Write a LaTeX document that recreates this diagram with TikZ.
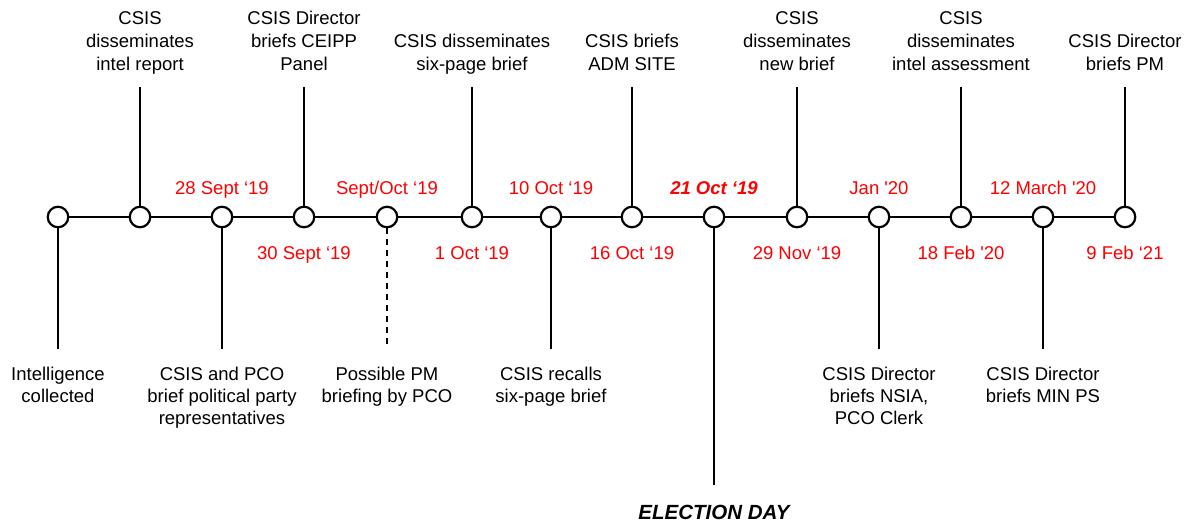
\documentclass[tikz,border=0pt]{standalone}
\usepackage{fontspec}
\setmainfont{Liberation Sans}
\begin{document}
\begin{tikzpicture}[x=1pt,y=-1pt,
  ev/.style={circle,draw,fill=white,line width=2.2pt,minimum size=20.5pt,inner sep=0pt},
  stem/.style={line width=2.2pt},
  dstem/.style={line width=2.2pt,dash pattern=on 6pt off 5pt},
  toplab/.style={anchor=south,align=center,inner sep=0pt,text depth=0pt,font=\fontsize{18.5}{23}\selectfont},
  botlab/.style={anchor=north,align=center,inner sep=0pt,font=\fontsize{18.5}{22}\selectfont},
  datelab/.style={anchor=base,inner sep=0pt,text=red,font=\fontsize{18.5}{22}\selectfont}]

\useasboundingbox (0,0) rectangle (1186,523);

% event circles
\node[ev] (c1)  at (58,217) {};
\node[ev] (c2)  at (140,217) {};
\node[ev] (c3)  at (222,217) {};
\node[ev] (c4)  at (304,217) {};
\node[ev] (c5)  at (387,217) {};
\node[ev] (c6)  at (472,217) {};
\node[ev] (c7)  at (551,217) {};
\node[ev] (c8)  at (632,217) {};
\node[ev] (c9)  at (714,217) {};
\node[ev] (c10) at (797,217) {};
\node[ev] (c11) at (879,217) {};
\node[ev] (c12) at (961,217) {};
\node[ev] (c13) at (1043,217) {};
\node[ev] (c14) at (1125,217) {};

% main timeline
\draw[stem] (c1) -- (c2);
\draw[stem] (c2) -- (c3);
\draw[stem] (c3) -- (c4);
\draw[stem] (c4) -- (c5);
\draw[stem] (c5) -- (c6);
\draw[stem] (c6) -- (c7);
\draw[stem] (c7) -- (c8);
\draw[stem] (c8) -- (c9);
\draw[stem] (c9) -- (c10);
\draw[stem] (c10) -- (c11);
\draw[stem] (c11) -- (c12);
\draw[stem] (c12) -- (c13);
\draw[stem] (c13) -- (c14);

% stem end points
\coordinate (e1)  at (58,349);
\coordinate (e2)  at (140,87);
\coordinate (e3)  at (222,349);
\coordinate (e4)  at (304,87);
\coordinate (e5)  at (387,349);
\coordinate (e6)  at (472,87);
\coordinate (e7)  at (551,349);
\coordinate (e8)  at (632,87);
\coordinate (e9)  at (714,485);
\coordinate (e10) at (797,87);
\coordinate (e11) at (879,349);
\coordinate (e12) at (961,87);
\coordinate (e13) at (1043,349);
\coordinate (e14) at (1125,87);

\draw[stem] (c1) -- (e1);
\draw[stem] (c2) -- (e2);
\draw[stem] (c3) -- (e3);
\draw[stem] (c4) -- (e4);
\draw[dstem] (c5) -- (e5);
\draw[stem] (c6) -- (e6);
\draw[stem] (c7) -- (e7);
\draw[stem] (c8) -- (e8);
\draw[stem] (c9) -- (e9);
\draw[stem] (c10) -- (e10);
\draw[stem] (c11) -- (e11);
\draw[stem] (c12) -- (e12);
\draw[stem] (c13) -- (e13);
\draw[stem] (c14) -- (e14);

% top labels
\node[toplab] (t2)  at (140,71) {CSIS\\disseminates\\intel report};
\node[toplab] (t4)  at (304,71) {CSIS Director\\briefs CEIPP\\Panel};
\node[toplab] (t6)  at (472,71) {CSIS disseminates\\six-page brief};
\node[toplab] (t8)  at (632,71) {CSIS briefs\\ADM SITE};
\node[toplab] (t10) at (797,71) {CSIS\\disseminates\\new brief};
\node[toplab] (t12) at (961,71) {CSIS\\disseminates\\intel assessment};
\node[toplab] (t14) at (1125,71) {CSIS Director\\briefs PM};

% bottom labels
\node[botlab] (b1)  at (58,367) {Intelligence\\collected};
\node[botlab] (b3)  at (222,367) {CSIS and PCO\\brief political party\\representatives};
\node[botlab] (b5)  at (387,367) {Possible PM\\briefing by PCO};
\node[botlab] (b7)  at (551,367) {CSIS recalls\\six-page brief};
\node[botlab] (b11) at (879,367) {CSIS Director\\briefs NSIA,\\PCO Clerk};
\node[botlab] (b13) at (1043,367) {CSIS Director\\briefs MIN PS};
\node[anchor=base,inner sep=0pt,font=\fontsize{20.5}{24}\selectfont\bfseries\itshape] (b9) at (714,519) {ELECTION DAY};

% dates above
\node[datelab] (d3)  at (222,194.5) {28 Sept ‘19};
\node[datelab] (d5)  at (387,194.5) {Sept/Oct ‘19};
\node[datelab] (d7)  at (551,194.5) {10 Oct ‘19};
\node[datelab,font=\fontsize{18.5}{22}\selectfont\bfseries\itshape] (d9) at (714,194.5) {21 Oct ‘19};
\node[datelab] (d11) at (879,194.5) {Jan \textquotesingle20};
\node[datelab] (d13) at (1043,194.5) {12 March \textquotesingle20};

% dates below
\node[datelab] (d4)  at (304,259.5) {30 Sept ‘19};
\node[datelab] (d6)  at (472,259.5) {1 Oct ‘19};
\node[datelab] (d8)  at (632,259.5) {16 Oct ‘19};
\node[datelab] (d10) at (797,259.5) {29 Nov ‘19};
\node[datelab] (d12) at (961,259.5) {18 Feb \textquotesingle20};
\node[datelab] (d14) at (1125,259.5) {9 Feb ‘21};
\end{tikzpicture}
\end{document}
